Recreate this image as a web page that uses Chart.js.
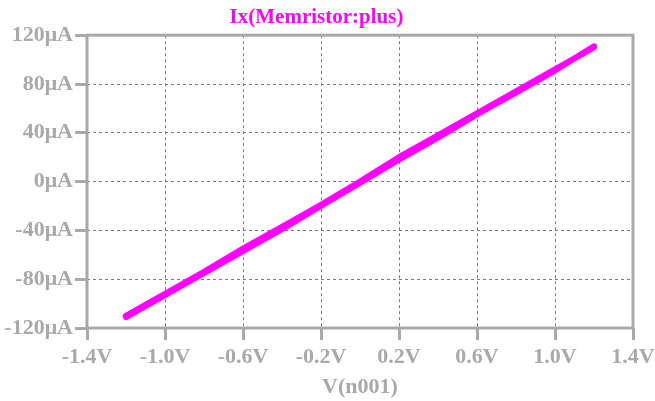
<!DOCTYPE html>
<html>
<head>
<meta charset="utf-8">
<script src="https://cdn.jsdelivr.net/npm/chart.js@4.4.0/dist/chart.umd.min.js"></script>
<style>
  html, body { margin: 0; padding: 0; background: #fff; }
  #wrap { width: 655px; height: 401px; }
</style>
</head>
<body>
<div id="wrap"><canvas id="iv" width="655" height="401"></canvas></div>
<script>
// sweep voltages (V) and currents (uA) for the two branches of the loop
const sweepV = [-1.2, -1.0, -0.8, -0.6, -0.4, -0.2, 0.0, 0.2, 0.4, 0.6, 0.8, 1.0, 1.2];
const upI    = [-110, -92, -74, -55, -37, -19, 0, 20, 38, 56, 74, 92, 110];
const downI  = [-111, -93, -75, -57, -39, -20, -1, 18, 36, 55, 73, 91, 111];

const xTicks = [-1.4, -1.0, -0.6, -0.2, 0.2, 0.6, 1.0, 1.4];
const yTicks = [-120, -80, -40, 0, 40, 80, 120];

const GRAY = '#a9a9a9';
const FONT = 'Liberation Serif';

const points = [];
sweepV.forEach((v, i) => points.push({ x: v, y: upI[i] }));
for (let i = sweepV.length - 1; i >= 0; i--) points.push({ x: sweepV[i], y: downI[i] });

const framePlugin = {
    id: 'frame',
    beforeDatasetsDraw(chart) {
        const a = chart.chartArea;
        const ctx = chart.ctx;
        ctx.save();
        ctx.strokeStyle = GRAY;
        ctx.lineWidth = 3;
        ctx.setLineDash([]);
        ctx.strokeRect(a.left, a.top, a.right - a.left, a.bottom - a.top);
        ctx.restore();
    }
};

const gridOpts = {
    color: '#7a7a7a',
    lineWidth: 1,
    tickColor: GRAY,
    tickWidth: 3,
    tickLength: 12,
    tickBorderDash: [],
};

new Chart(document.getElementById('iv').getContext('2d'), {
    type: 'scatter',
    data: {
        datasets: [{
            data: points,
            showLine: true,
            borderColor: '#ff00ff',
            borderWidth: 6,
            borderCapStyle: 'round',
            borderJoinStyle: 'round',
            pointRadius: 0,
            tension: 0,
        }],
    },
    options: {
        responsive: false,
        animation: false,
        layout: { padding: { left: 0, right: 22, top: 0, bottom: 0 } },
        plugins: {
            legend: { display: false },
            tooltip: { enabled: false },
            title: {
                display: true,
                text: 'Ix(Memristor:plus)',
                color: '#ff00ff',
                font: { family: FONT, size: 21, weight: 'bold' },
                padding: { top: 5, bottom: 5 },
            },
        },
        scales: {
            x: {
                type: 'linear',
                min: -1.4,
                max: 1.4,
                grid: gridOpts,
                border: { display: false, dash: [3, 3] },
                afterBuildTicks: (s) => { s.ticks = xTicks.map(v => ({ value: v })); },
                afterFit: (s) => { s.height = 73; s.paddingLeft = 0; s.paddingRight = 0; },
                ticks: {
                    color: GRAY,
                    padding: 4,
                    maxRotation: 0,
                    font: { family: FONT, size: 22, weight: 'bold' },
                    callback: (v) => v.toFixed(1) + 'V',
                },
                title: {
                    display: true,
                    text: 'V(n001)',
                    color: GRAY,
                    padding: { top: 0, bottom: 0 },
                    font: { family: FONT, size: 22, weight: 'bold' },
                },
            },
            y: {
                type: 'linear',
                min: -120,
                max: 120,
                grid: gridOpts,
                border: { display: false, dash: [3, 3] },
                afterBuildTicks: (s) => { s.ticks = yTicks.map(v => ({ value: v })); },
                afterFit: (s) => { s.width = 87; s.paddingTop = 0; s.paddingBottom = 0; },
                ticks: {
                    color: GRAY,
                    padding: 2,
                    font: { family: FONT, size: 22, weight: 'bold' },
                    callback: (v) => v + 'μA',
                },
            },
        },
    },
    plugins: [framePlugin],
});
</script>
</body>
</html>
